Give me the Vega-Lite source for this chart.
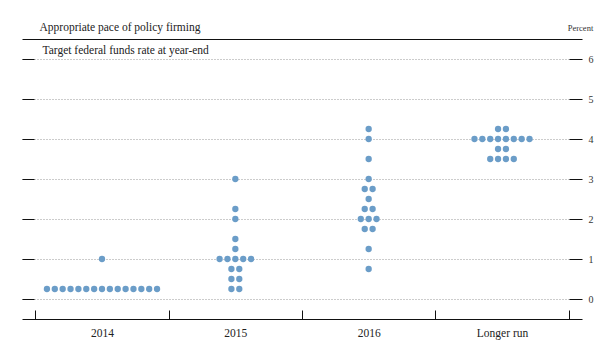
{
  "$schema": "https://vega.github.io/schema/vega-lite/v6.json",
  "width": 560,
  "height": 280,
  "autosize": {"type": "none"},
  "padding": {"left": 22, "top": 39, "right": 32, "bottom": 39},
  "config": {
    "view": {"stroke": null},
    "axis": {"labelFont": "Liberation Serif", "titleFont": "Liberation Serif", "titleFontWeight": "normal"}
  },
  "datasets": {
    "dots": [
      {"period": "2014", "rate": 0.25}, {"period": "2014", "rate": 0.25}, {"period": "2014", "rate": 0.25},
      {"period": "2014", "rate": 0.25}, {"period": "2014", "rate": 0.25}, {"period": "2014", "rate": 0.25},
      {"period": "2014", "rate": 0.25}, {"period": "2014", "rate": 0.25}, {"period": "2014", "rate": 0.25},
      {"period": "2014", "rate": 0.25}, {"period": "2014", "rate": 0.25}, {"period": "2014", "rate": 0.25},
      {"period": "2014", "rate": 0.25}, {"period": "2014", "rate": 0.25}, {"period": "2014", "rate": 0.25},
      {"period": "2014", "rate": 1.0},
      {"period": "2015", "rate": 3.0},
      {"period": "2015", "rate": 2.25},
      {"period": "2015", "rate": 2.0},
      {"period": "2015", "rate": 1.5},
      {"period": "2015", "rate": 1.25},
      {"period": "2015", "rate": 1.0}, {"period": "2015", "rate": 1.0}, {"period": "2015", "rate": 1.0},
      {"period": "2015", "rate": 1.0}, {"period": "2015", "rate": 1.0},
      {"period": "2015", "rate": 0.75}, {"period": "2015", "rate": 0.75},
      {"period": "2015", "rate": 0.5}, {"period": "2015", "rate": 0.5},
      {"period": "2015", "rate": 0.25}, {"period": "2015", "rate": 0.25},
      {"period": "2016", "rate": 4.25},
      {"period": "2016", "rate": 4.0},
      {"period": "2016", "rate": 3.5},
      {"period": "2016", "rate": 3.0},
      {"period": "2016", "rate": 2.75}, {"period": "2016", "rate": 2.75},
      {"period": "2016", "rate": 2.5},
      {"period": "2016", "rate": 2.25}, {"period": "2016", "rate": 2.25},
      {"period": "2016", "rate": 2.0}, {"period": "2016", "rate": 2.0}, {"period": "2016", "rate": 2.0},
      {"period": "2016", "rate": 1.75}, {"period": "2016", "rate": 1.75},
      {"period": "2016", "rate": 1.25},
      {"period": "2016", "rate": 0.75},
      {"period": "Longer run", "rate": 4.25}, {"period": "Longer run", "rate": 4.25},
      {"period": "Longer run", "rate": 4.0}, {"period": "Longer run", "rate": 4.0},
      {"period": "Longer run", "rate": 4.0}, {"period": "Longer run", "rate": 4.0},
      {"period": "Longer run", "rate": 4.0}, {"period": "Longer run", "rate": 4.0},
      {"period": "Longer run", "rate": 4.0}, {"period": "Longer run", "rate": 4.0},
      {"period": "Longer run", "rate": 3.75}, {"period": "Longer run", "rate": 3.75},
      {"period": "Longer run", "rate": 3.5}, {"period": "Longer run", "rate": 3.5},
      {"period": "Longer run", "rate": 3.5}, {"period": "Longer run", "rate": 3.5}
    ]
  },
  "layer": [
    {
      "data": {"name": "dots"},
      "transform": [
        {"window": [{"op": "row_number", "as": "idx"}], "groupby": ["period", "rate"]},
        {"joinaggregate": [{"op": "count", "as": "n"}], "groupby": ["period", "rate"]},
        {"calculate": "datum.idx - (datum.n + 1) / 2", "as": "off"}
      ],
      "mark": {"type": "circle", "size": 40, "opacity": 1, "color": "#6b9dc8"},
      "encoding": {
        "x": {
          "field": "period", "type": "nominal",
          "scale": {"domain": ["2014", "2015", "2016", "Longer run"], "paddingInner": 0, "paddingOuter": 0.1},
          "axis": {
            "orient": "bottom", "title": null, "tickBand": "extent", "offset": -9, "tickSize": 9,
            "tickColor": "#111", "domain": false, "labelAngle": 0,
            "labelFontSize": 11.5, "labelColor": "#222", "labelPadding": 8, "grid": false
          }
        },
        "xOffset": {"field": "off", "type": "quantitative", "scale": {"domain": [-8.476, 8.476]}},
        "y": {
          "field": "rate", "type": "quantitative",
          "scale": {"domain": [-0.5, 6.5], "nice": false, "zero": false},
          "axis": {
            "orient": "left", "values": [0, 1, 2, 3, 4, 5, 6], "labels": false, "domain": false,
            "tickSize": -12, "tickColor": "#111", "grid": true, "gridDash": [1, 2], "gridColor": "#999",
            "title": "Target federal funds rate at year-end", "titleAngle": 0, "titleAlign": "left",
            "titleBaseline": "alphabetic", "titleX": 20, "titleY": 14, "titleFontSize": 11.5, "titleColor": "#222"
          }
        }
      }
    },
    {
      "mark": {"type": "rule", "strokeDash": [4, 3], "color": "#555", "strokeWidth": 1.2},
      "encoding": {
        "x": {
          "datum": "Longer run", "type": "nominal", "bandPosition": 0,
          "axis": {
            "orient": "top", "labels": false, "ticks": false, "grid": false, "domain": true, "domainColor": "#111",
            "title": "Appropriate pace of policy firming", "titleAngle": 0, "titleAlign": "left",
            "titleBaseline": "alphabetic", "titleX": 17, "titleY": -9, "titleFontSize": 11.5, "titleColor": "#222"
          }
        }
      }
    },
    {
      "mark": {"type": "rule", "color": "#111"},
      "encoding": {
        "x": {
          "datum": "2014", "type": "nominal", "bandPosition": -0.1,
          "axis": {"orient": "bottom", "title": null, "labels": false, "ticks": false, "grid": false, "domain": true, "domainColor": "#111"}
        },
        "y": {
          "datum": -0.5, "type": "quantitative",
          "scale": {"domain": [-0.5, 6.5], "nice": false, "zero": false},
          "axis": {
            "orient": "right", "values": [0, 1, 2, 3, 4, 5, 6], "domain": false, "grid": false,
            "offset": -13, "tickSize": 13, "tickColor": "#111", "labelFontSize": 10, "labelColor": "#333", "labelPadding": 6,
            "title": "Percent", "titleAngle": 0, "titleAlign": "center", "titleBaseline": "alphabetic",
            "titleX": 11, "titleY": -9, "titleFontSize": 8.5, "titleColor": "#333"
          }
        },
        "y2": {"datum": -0.275}
      }
    },
    {
      "mark": {"type": "rule", "color": "#111"},
      "encoding": {
        "x": {"datum": "Longer run", "type": "nominal", "bandPosition": 1.1, "axis": null},
        "y": {"datum": -0.5, "type": "quantitative", "axis": null},
        "y2": {"datum": -0.275}
      }
    }
  ],
  "resolve": {"axis": {"x": "independent", "y": "independent"}}
}
